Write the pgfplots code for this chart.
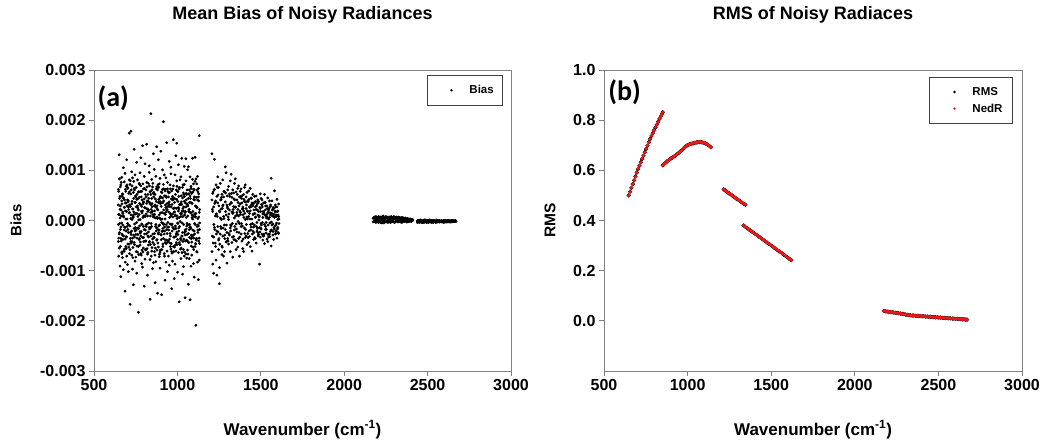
\documentclass[border=0pt]{standalone}
\usepackage{fontspec}
\setmainfont{Liberation Sans}
\newfontfamily\calib{Carlito}
\usepackage{pgfplots}
\usepackage{pgfplotstable}
\pgfplotsset{compat=1.18}

\definecolor{axgray}{RGB}{128,128,128}
\definecolor{nedred}{RGB}{235,25,25}

% Bias values in units of 0.001
\pgfplotstableread{
x a b c d
646 0.31 -0.42 0.62 -0.08
651 -0.55 0.12 1.31 -0.27
656 0.48 -0.91 0.05 0.22
661 -0.13 0.71 -0.36 -1.12
666 0.86 -0.05 0.39 -0.63
671 0.17 -0.29 -0.74 0.53
676 -0.98 0.44 0.09 1.05
681 0.26 -0.61 0.77 -0.19
686 -0.37 0.94 -0.14 -1.41
691 0.58 0.03 -0.52 0.35
696 1.21 -0.33 0.18 -0.71
701 -0.06 0.66 -0.88 0.41
706 0.39 -1.02 0.27 -0.24
711 -0.47 0.15 1.74 0.81
716 0.72 -0.58 -0.11 -1.67
721 0.04 0.53 -0.42 1.78
726 -0.69 -0.21 0.33 0.97
731 0.23 0.85 -0.97 -0.35
736 -1.28 0.11 0.56 0.07
741 0.64 -0.44 -0.16 1.42
746 -0.21 0.36 0.91 -0.81
751 0.47 -0.73 -0.28 0.14
756 -0.04 1.16 0.42 -1.05
761 0.81 -0.15 -0.63 0.29
766 -0.52 0.57 0.21 -1.83
771 0.12 -0.38 0.74 0.46
776 0.95 0.02 -0.49 -0.22
781 -0.31 0.69 1.25 -0.66
786 0.28 -0.86 -0.07 0.58
791 1.49 0.19 -0.34 -0.93
796 -0.12 -0.55 0.63 0.37
801 0.43 0.88 -1.31 -0.18
806 -0.77 0.25 0.08 1.13
811 0.61 -0.09 -0.59 -0.41
816 -0.26 1.52 0.34 0.76
821 0.09 -0.67 -1.09 0.23
826 0.74 0.38 -0.23 -0.49
831 -0.43 -0.14 0.96 1.09
836 0.33 0.57 -0.78 -1.57
841 2.13 -0.31 0.16 0.52
846 -0.61 0.82 0.44 -0.12
851 0.18 -0.96 -0.37 0.67
856 1.33 0.07 0.54 -0.84
861 -0.34 -0.48 1.02 0.29
866 0.52 0.31 -0.69 -1.24
871 -0.08 -0.82 0.27 0.88
876 0.67 1.47 -0.15 -0.39
881 -1.45 0.22 0.61 0.04
886 0.36 -0.27 -0.53 1.21
891 -0.19 0.73 0.11 -0.72
896 0.84 -0.63 -0.95 0.38
901 0.02 0.46 1.38 -0.28
906 -0.58 -0.04 0.35 -1.48
911 0.45 1.01 -0.21 0.62
916 1.97 -0.36 0.72 -0.06
921 -0.27 0.14 -0.66 0.91
926 0.59 -1.19 0.03 -0.44
931 -0.83 0.49 0.85 0.26
936 0.21 -0.18 -0.39 1.55
941 0.76 0.63 -1.02 -0.13
946 -0.41 -0.71 0.47 0.34
951 0.37 0.28 1.18 -0.89
956 -0.07 -0.45 -0.26 0.71
961 1.06 0.93 0.12 -0.57
966 -0.62 -0.09 0.59 -1.36
971 0.13 0.41 -0.81 0.48
976 0.69 -0.52 0.24 1.61
981 -0.33 0.17 -1.16 -0.17
986 0.91 -0.87 0.43 0.09
991 -0.16 1.29 -0.32 -0.61
996 0.42 -0.23 0.79 1.54
1001 -1.03 0.58 -0.05 -0.38
1006 0.26 -0.64 1.11 0.19
1011 0.63 0.06 -0.44 -1.62
1016 -0.48 0.81 0.31 -0.02
1021 0.08 -0.39 -0.76 0.87
1026 1.24 0.32 0.14 -0.31
1031 -0.24 -1.07 0.66 0.45
1036 0.55 0.19 -0.58 -0.92
1041 -0.71 0.72 0.38 1.08
1046 0.16 -0.29 -0.19 -1.54
1051 0.79 1.23 -0.67 0.27
1056 -0.39 -0.11 0.52 -0.75
1061 0.31 -0.59 -0.09 1.01
1066 1.07 0.44 -1.27 -0.26
1071 -0.18 -0.76 0.22 0.61
1076 0.49 0.87 0.36 -1.58
1081 -0.91 -0.16 0.68 0.15
1086 0.35 0.54 -0.43 -0.69
1091 0.82 -0.34 1.24 0.03
1096 -0.29 0.09 -0.86 0.73
1101 0.61 -1.13 0.47 -0.21
1106 -0.52 0.78 -0.08 1.26
1111 0.14 -0.47 0.83 -2.09
1116 0.73 0.26 -0.62 -0.36
1121 -0.09 -0.83 0.41 0.88
1126 0.47 0.64 -1.18 -0.11
1131 -0.35 0.16 1.69 -0.79
}\clusterA

\pgfplotstableread{
x a b c d
648 0.12 -0.35 0.58 -0.71
653 -0.24 0.44 -0.06 0.83
658 0.67 -0.18 0.29 -0.52
663 -0.41 0.09 0.76 0.21
668 0.33 -0.66 -0.27 0.48
673 -0.09 0.52 0.14 -0.38
678 0.45 -0.31 -0.61 0.07
683 -0.57 0.26 0.41 -0.13
688 0.19 -0.83 0.62 0.35
693 -0.32 0.68 -0.21 -0.56
698 0.71 -0.12 0.03 0.29
703 -0.18 0.37 -0.47 0.64
708 0.54 -0.53 0.22 -0.09
713 -0.66 0.16 0.57 0.31
718 0.28 -0.24 -0.36 0.79
723 -0.45 0.61 0.11 -0.28
728 0.38 -0.42 0.69 0.02
733 0.06 0.23 -0.54 -0.74
738 -0.29 0.78 0.17 0.44
743 0.61 -0.07 -0.33 -0.48
748 -0.14 0.49 0.36 0.13
753 0.27 -0.62 -0.19 0.66
758 -0.51 0.14 0.52 -0.35
763 0.43 -0.28 0.08 0.25
768 0.01 0.57 -0.68 -0.16
773 -0.36 -0.11 0.34 0.72
778 0.58 0.32 -0.25 -0.43
783 -0.22 -0.69 0.47 0.18
788 0.15 0.41 -0.08 -0.59
793 -0.63 0.06 0.73 0.33
798 0.36 -0.34 -0.42 0.09
803 0.09 0.64 0.26 -0.27
808 -0.41 -0.19 -0.58 0.52
813 0.24 0.47 0.13 -0.12
818 -0.07 -0.56 0.67 0.39
823 0.52 0.18 -0.31 -0.64
828 -0.33 -0.05 0.44 0.21
833 0.69 0.36 -0.17 -0.42
838 -0.15 -0.48 0.09 0.58
843 0.31 0.22 -0.71 -0.06
848 -0.54 0.61 0.27 0.34
853 0.12 -0.27 -0.44 0.74
858 0.47 0.08 0.56 -0.33
863 -0.26 -0.62 0.19 0.12
868 0.05 0.43 -0.12 -0.55
873 0.63 -0.21 0.38 0.26
878 -0.38 0.29 -0.59 0.07
883 0.21 -0.45 0.71 -0.18
888 -0.11 0.66 -0.24 0.42
893 0.44 -0.09 0.05 -0.67
898 -0.59 0.34 0.48 0.15
903 0.28 -0.38 -0.29 0.57
908 0.03 0.55 0.16 -0.22
913 -0.47 -0.16 -0.52 0.36
918 0.39 0.21 0.63 -0.08
923 -0.21 -0.71 -0.13 0.49
928 0.62 0.12 0.31 -0.39
933 -0.08 0.46 -0.46 0.17
938 0.34 -0.26 0.22 -0.61
943 -0.43 0.58 -0.04 0.28
948 0.17 -0.13 0.55 -0.19
953 0.56 0.31 -0.37 0.06
958 -0.31 -0.52 0.14 0.63
963 0.09 0.27 0.43 -0.46
968 -0.65 -0.07 -0.21 0.32
973 0.42 0.63 0.07 -0.14
978 -0.16 -0.33 -0.62 0.45
983 0.25 0.17 0.36 -0.53
988 -0.49 0.52 -0.11 0.11
993 0.61 -0.44 0.24 -0.27
998 0.04 0.09 -0.48 0.68
1003 -0.28 0.38 0.58 -0.06
1008 0.48 -0.21 -0.15 0.23
1013 -0.12 0.66 0.32 -0.48
1018 0.33 -0.57 -0.36 0.14
1023 -0.55 0.13 0.49 0.37
1028 0.19 -0.31 -0.05 -0.64
1033 0.71 0.24 -0.42 0.08
1038 -0.37 -0.08 0.27 0.52
1043 0.11 0.48 -0.63 -0.24
1048 -0.22 -0.41 0.18 0.35
1053 0.54 0.06 0.41 -0.17
1058 -0.06 0.33 -0.28 0.61
1063 0.29 -0.67 0.09 -0.42
1068 -0.44 0.21 0.53 0.18
1073 0.36 -0.14 -0.34 -0.08
1078 -0.13 0.57 0.16 0.44
1083 0.64 -0.36 -0.51 -0.29
1088 -0.31 0.11 0.34 0.06
1093 0.18 -0.53 -0.19 0.57
1098 -0.58 0.42 0.62 -0.35
1103 0.41 -0.06 -0.27 0.13
1108 0.07 0.29 0.08 -0.46
1113 -0.36 -0.39 0.46 0.28
1118 0.26 0.61 -0.12 -0.63
1123 -0.19 -0.24 0.57 0.04
1128 0.53 0.07 -0.41 0.39
1133 -0.05 -0.46 0.22 -0.18
}\clusterAA

\pgfplotstableread{
x a b c
1207 0.41 -0.62 1.33
1212 -0.87 0.18 0.54
1217 0.27 -0.33 -1.05
1222 0.62 1.22 -0.14
1227 -0.45 0.09 0.36
1232 0.13 -0.79 0.71
1237 -1.09 0.48 -0.21
1242 0.35 -0.12 0.87
1247 -0.58 0.66 -0.39
1252 0.19 -0.94 -1.26
1257 0.74 -0.27 0.05
1262 -0.16 0.42 0.23
1267 0.52 -0.51 -0.68
1272 -0.31 0.29 0.81
1277 0.08 -0.71 0.47
1282 -0.62 0.57 -0.09
1287 0.37 -0.18 1.07
1292 0.95 0.11 -0.43
1297 -0.24 -0.85 0.31
1302 0.61 0.24 -0.36
1307 -0.47 0.68 0.02
1312 0.21 -0.29 0.53
1317 0.79 -0.62 -0.15
1322 -0.11 0.36 0.92
1327 0.46 -0.44 0.17
1332 -0.73 0.14 0.61
1337 0.28 0.55 -0.32
1342 0.05 -0.19 0.74
1347 -0.39 0.83 0.26
1352 0.57 -0.07 -0.58
1357 0.16 0.41 -0.23
1362 -0.53 0.22 0.64
1367 0.69 -0.36 0.09
1372 -0.06 0.47 -0.71
1377 0.33 0.12 0.58
1382 -0.27 0.63 -0.12
1387 0.49 -0.41 0.35
1392 0.11 0.27 -0.56
1397 -0.62 0.52 0.19
1402 0.38 -0.15 0.66
1407 0.02 0.71 -0.34
1412 -0.31 0.24 0.47
1417 0.56 -0.48 0.07
1422 0.18 0.39 -0.26
1427 -0.44 0.08 0.59
1432 0.27 -0.32 0.14
1437 0.64 0.19 -0.52
1442 -0.13 0.45 0.31
1447 0.35 -0.61 0.03
1452 -0.21 0.29 0.52
1457 0.13 -0.13 -0.38
1462 0.48 0.36 -0.09
1467 -0.36 0.06 0.27
1472 0.22 -0.45 0.49
1477 -0.04 0.33 -0.21
1482 0.41 -0.24 0.11
1487 -0.28 0.18 0.38
1492 0.09 -0.87 -0.14
1497 0.53 0.24 -0.33
1502 -0.17 -0.06 0.44
1507 0.31 0.41 -0.27
1512 -0.39 0.13 0.06
1517 0.17 -0.31 0.35
1522 -0.08 0.52 -0.46
1527 0.36 -0.18 0.21
1532 -0.25 0.09 -0.04
1537 0.12 0.29 -0.37
1542 0.45 -0.42 0.16
1547 -0.33 0.21 0.03
1552 0.06 -0.27 0.39
1557 0.28 0.11 -0.22
1562 -0.19 0.84 -0.51
1567 0.39 -0.09 0.14
1572 -0.07 0.23 -0.29
1577 0.24 -0.38 0.08
1582 0.59 0.06 -0.17
1587 -0.27 0.17 0.31
1592 0.11 -0.21 -0.09
1597 0.42 0.27 -0.35
1602 -0.14 0.02 0.19
1607 0.08 -0.26 0.33
}\clusterB

\pgfplotstableread{
x a b
1209 0.22 -0.31
1214 -0.45 0.57
1219 0.61 -0.08
1224 -0.18 0.34
1229 0.39 -0.52
1234 -0.27 0.13
1239 0.08 0.66
1244 0.51 -0.23
1249 -0.36 0.29
1254 0.17 -0.47
1259 -0.12 0.41
1264 0.46 0.02
1269 -0.53 0.24
1274 0.31 -0.15
1279 0.04 0.58
1284 -0.29 -0.36
1289 0.55 0.18
1294 -0.09 -0.42
1299 0.27 0.49
1304 -0.41 0.07
1309 0.13 -0.26
1314 0.48 0.32
1319 -0.21 -0.09
1324 0.35 0.54
1329 -0.06 -0.33
1334 0.22 0.16
1339 -0.38 0.43
1344 0.41 -0.12
1349 0.09 0.27
1354 -0.17 -0.41
1359 0.52 0.11
1364 -0.02 0.36
1369 0.29 -0.24
1374 -0.33 0.19
1379 0.16 0.48
1384 0.44 -0.06
1389 -0.11 0.23
1394 0.24 -0.37
1399 0.06 0.42
1404 -0.26 0.14
1409 0.37 -0.18
1414 -0.08 0.31
1419 0.19 0.03
1424 -0.34 0.38
1429 0.42 -0.21
1434 0.03 0.26
1439 -0.19 -0.08
1444 0.28 0.44
1449 -0.06 -0.27
1454 0.33 0.12
1459 -0.24 0.21
1464 0.14 -0.34
1469 0.38 0.07
1474 -0.12 0.29
1479 0.21 -0.16
1484 -0.31 0.35
1489 0.07 0.01
1494 0.26 -0.23
1499 -0.15 0.18
1504 0.32 -0.09
1509 -0.04 0.27
1514 0.18 -0.31
1519 -0.27 0.14
1524 0.11 0.36
1529 0.29 -0.12
1534 -0.18 0.05
1539 0.06 0.24
1544 -0.09 -0.28
1549 0.24 0.16
1554 -0.32 -0.05
1559 0.15 0.31
1564 -0.03 -0.19
1569 0.21 0.09
1574 -0.22 0.26
1579 0.12 -0.14
1584 -0.11 0.19
1589 0.27 -0.26
1594 -0.05 0.08
1599 0.18 -0.17
1604 -0.24 0.11
1609 0.03 -0.06
}\clusterBB

\pgfplotstableread{
x a b
2174 0.04 -0.03
2178 -0.02 0.06
2182 0.07 -0.01
2186 0.01 0.04
2190 -0.04 0.08
2194 0.05 -0.02
2198 0.02 0.06
2202 -0.03 0.03
2206 0.08 -0.04
2210 0.00 0.05
2214 0.06 -0.02
2218 -0.04 0.07
2222 0.03 0.01
2226 0.07 -0.05
2230 -0.01 0.04
2234 0.05 0.09
2238 -0.05 0.02
2242 0.04 -0.02
2246 0.01 0.06
2250 0.08 -0.03
2254 -0.02 0.05
2258 0.06 0.00
2262 -0.04 0.07
2266 0.03 -0.01
2270 0.07 0.04
2274 -0.03 0.02
2278 0.05 -0.04
2282 0.00 0.08
2286 0.06 -0.02
2290 -0.02 0.05
2294 0.04 0.01
2298 0.08 -0.03
2302 -0.04 0.06
2306 0.02 0.03
2310 0.06 -0.02
2314 -0.01 0.07
2318 0.05 0.00
2322 -0.03 0.04
2326 0.07 -0.01
2330 0.01 0.06
2334 -0.02 0.03
2338 0.05 -0.03
2342 0.02 0.06
2346 -0.04 0.01
2350 0.06 0.04
2354 0.00 -0.02
2358 0.04 0.05
2362 -0.02 0.02
2366 0.05 -0.01
2370 0.01 0.04
2374 -0.03 0.02
2378 0.04 0.00
2382 0.02 -0.03
2386 -0.01 0.03
2390 0.03 0.01
2394 0.00 -0.02
2398 0.02 0.03
2402 -0.02 0.01
2406 0.01 -0.01
2410 0.00 0.02
2438 -0.01 -0.04
2442 -0.03 0.00
2446 0.00 -0.03
2450 -0.04 -0.01
2454 -0.02 0.01
2458 0.01 -0.03
2462 -0.03 -0.01
2466 -0.01 -0.04
2470 -0.04 0.00
2474 0.00 -0.02
2478 -0.02 -0.04
2482 -0.03 0.01
2486 0.01 -0.02
2490 -0.02 -0.03
2494 -0.04 0.00
2498 0.00 -0.03
2502 -0.03 -0.01
2506 -0.01 -0.04
2510 -0.02 0.01
2514 0.01 -0.02
2518 -0.03 -0.01
2522 -0.01 -0.03
2526 -0.04 0.00
2530 0.00 -0.02
2534 -0.02 -0.04
2538 -0.03 0.00
2542 0.00 -0.02
2546 -0.02 -0.03
2550 -0.04 -0.01
2554 -0.01 0.01
2558 -0.03 -0.02
2562 0.00 -0.03
2566 -0.02 -0.01
2570 -0.03 0.00
2574 -0.01 -0.03
2578 -0.02 -0.01
2582 0.00 -0.02
2586 -0.03 -0.01
2590 -0.01 -0.03
2594 -0.02 0.00
2598 -0.04 -0.02
2602 0.00 -0.01
2606 -0.02 -0.03
2610 -0.01 0.00
2614 -0.03 -0.02
2618 0.00 -0.01
2622 -0.02 -0.03
2626 -0.01 0.00
2630 -0.03 -0.02
2634 0.00 -0.01
2638 -0.02 -0.03
2642 -0.01 0.00
2646 -0.03 -0.02
2650 0.00 -0.01
2654 -0.02 -0.02
2658 -0.01 0.00
2662 -0.02 -0.02
2666 0.00 -0.01
2670 -0.01 -0.02
}\clusterC

% RMS and NedR
\pgfplotstableread{
x r n
648 0.500 0.500
656 0.515 0.514
664 0.530 0.531
672 0.545 0.545
680 0.560 0.561
688 0.576 0.575
696 0.591 0.591
704 0.605 0.606
712 0.618 0.618
720 0.632 0.631
728 0.645 0.646
736 0.658 0.658
744 0.672 0.671
752 0.685 0.686
760 0.698 0.698
768 0.712 0.711
776 0.725 0.725
784 0.737 0.738
792 0.748 0.748
800 0.760 0.759
808 0.771 0.772
816 0.782 0.782
824 0.794 0.793
832 0.805 0.806
840 0.816 0.816
846 0.824 0.823
851 0.832 0.832
852 0.620 0.620
860 0.625 0.626
868 0.630 0.630
876 0.635 0.634
884 0.639 0.640
892 0.643 0.643
900 0.647 0.648
908 0.650 0.650
916 0.654 0.653
924 0.657 0.658
932 0.662 0.662
940 0.666 0.665
948 0.670 0.671
956 0.675 0.675
964 0.680 0.679
972 0.685 0.686
980 0.690 0.690
988 0.695 0.694
996 0.699 0.700
1004 0.702 0.702
1012 0.704 0.704
1020 0.706 0.707
1028 0.707 0.707
1036 0.708 0.709
1044 0.710 0.710
1052 0.711 0.711
1060 0.712 0.712
1068 0.712 0.713
1076 0.713 0.713
1084 0.712 0.712
1092 0.711 0.711
1100 0.709 0.710
1108 0.707 0.707
1116 0.704 0.704
1124 0.700 0.701
1132 0.696 0.696
1140 0.692 0.692
1216 0.524 0.524
1224 0.520 0.521
1232 0.516 0.516
1240 0.512 0.512
1248 0.508 0.509
1256 0.505 0.505
1264 0.501 0.501
1272 0.497 0.497
1280 0.493 0.494
1288 0.489 0.489
1296 0.485 0.486
1304 0.482 0.482
1312 0.478 0.478
1320 0.474 0.475
1328 0.470 0.470
1336 0.467 0.467
1345 0.463 0.463
1335 0.380 0.380
1345 0.375 0.375
1355 0.370 0.371
1365 0.365 0.365
1375 0.360 0.360
1385 0.356 0.355
1395 0.351 0.351
1405 0.346 0.346
1415 0.341 0.342
1425 0.336 0.336
1435 0.332 0.331
1445 0.327 0.327
1455 0.322 0.322
1465 0.317 0.318
1475 0.312 0.312
1485 0.307 0.308
1495 0.303 0.303
1505 0.298 0.298
1515 0.293 0.293
1525 0.288 0.289
1535 0.283 0.283
1545 0.278 0.279
1555 0.274 0.274
1565 0.269 0.269
1575 0.264 0.264
1585 0.259 0.260
1595 0.254 0.254
1605 0.249 0.249
1615 0.244 0.244
1620 0.242 0.242
2173 0.039 0.039
2183 0.038 0.038
2193 0.037 0.037
2203 0.036 0.036
2213 0.035 0.035
2223 0.034 0.034
2233 0.033 0.033
2243 0.032 0.032
2253 0.031 0.031
2263 0.030 0.030
2273 0.029 0.029
2283 0.028 0.028
2293 0.027 0.027
2303 0.025 0.025
2313 0.024 0.024
2323 0.023 0.023
2333 0.022 0.022
2343 0.021 0.021
2353 0.021 0.021
2363 0.020 0.020
2373 0.020 0.020
2383 0.019 0.019
2393 0.019 0.019
2403 0.018 0.018
2413 0.018 0.018
2423 0.017 0.017
2433 0.017 0.017
2443 0.016 0.016
2453 0.016 0.016
2463 0.015 0.015
2473 0.015 0.015
2483 0.014 0.014
2493 0.014 0.014
2503 0.013 0.013
2513 0.013 0.013
2523 0.012 0.012
2533 0.012 0.012
2543 0.011 0.011
2553 0.011 0.011
2563 0.010 0.010
2573 0.010 0.010
2583 0.009 0.009
2593 0.009 0.009
2603 0.008 0.008
2613 0.008 0.008
2623 0.007 0.007
2633 0.007 0.007
2643 0.006 0.006
2653 0.006 0.006
2663 0.005 0.005
2671 0.005 0.005
}\rmsdata

\pgfplotsset{
  panel/.style={
    scale only axis, width=417pt, height=301pt,
    xmin=500, xmax=3000, xtick={500,1000,1500,2000,2500,3000},
    axis line style={axgray, line width=0.8pt},
    tick style={axgray, line width=0.8pt},
    major tick length=5pt, tick align=outside,
    xtick pos=bottom, ytick pos=left,
    /pgf/number format/assume math mode=true,
    /pgf/number format/1000 sep={},
    ticklabel style={font=\fontsize{16}{18}\selectfont\bfseries},
    xlabel={Wavenumber (cm\textsuperscript{-1})},
    xlabel style={at={(axis description cs:0.5,-0.195)}, anchor=center,
      font=\fontsize{17}{20}\selectfont\bfseries},
    title style={at={(axis description cs:0.5,1)}, anchor=base, yshift=44pt,
      font=\fontsize{18}{21}\selectfont\bfseries},
    legend cell align=left,
    legend style={draw=black!75, line width=0.6pt, fill=white,
      font=\fontsize{11.5}{13}\selectfont\bfseries,
      inner xsep=6pt, inner ysep=6pt, row sep=1pt,
      nodes={inner sep=3pt}},
    legend image code/.code={\path[draw=none, fill=none] (0pt,-3pt) rectangle (33pt,3pt);
      \fill (18pt,0pt) circle (0.9pt);},
  },
  bias/.style={only marks, mark=*, mark size=1.2pt, black, forget plot},
}

\begin{document}
\begin{tikzpicture}
\useasboundingbox (0,0) rectangle (1043pt,443pt);

\begin{axis}[panel, at={(94pt,72pt)}, anchor=south west,
  ymin=-0.003, ymax=0.003,
  ytick={-0.003,-0.002,-0.001,0,0.001,0.002,0.003},
  scaled y ticks=false,
  yticklabel style={/pgf/number format/fixed, /pgf/number format/fixed zerofill,
    /pgf/number format/precision=3},
  ylabel={Bias},
  ylabel style={at={(axis description cs:-0.187,0.5)}, anchor=center,
    font=\fontsize{15}{18}\selectfont\bfseries},
  title={Mean Bias of Noisy Radiances},
  legend style={at={(axis description cs:0.981,0.983)}, anchor=north east,
    inner ysep=7pt},
]
\addplot[only marks, mark=*, mark size=1.2pt, black] table[x=x, y expr=\thisrow{a}*0.001] {\clusterA};
\addlegendentry{Bias\hspace{5pt}}
\addplot[bias] table[x=x, y expr=\thisrow{b}*0.001] {\clusterA};
\addplot[bias] table[x=x, y expr=\thisrow{c}*0.001] {\clusterA};
\addplot[bias] table[x=x, y expr=\thisrow{d}*0.001] {\clusterA};
\addplot[bias] table[x=x, y expr=\thisrow{a}*0.001] {\clusterAA};
\addplot[bias] table[x=x, y expr=\thisrow{b}*0.001] {\clusterAA};
\addplot[bias] table[x=x, y expr=\thisrow{c}*0.001] {\clusterAA};
\addplot[bias] table[x=x, y expr=\thisrow{d}*0.001] {\clusterAA};
\addplot[bias] table[x=x, y expr=\thisrow{a}*0.001] {\clusterB};
\addplot[bias] table[x=x, y expr=\thisrow{b}*0.001] {\clusterB};
\addplot[bias] table[x=x, y expr=\thisrow{c}*0.001] {\clusterB};
\addplot[bias] table[x=x, y expr=\thisrow{a}*0.001] {\clusterBB};
\addplot[bias] table[x=x, y expr=\thisrow{b}*0.001] {\clusterBB};
\addplot[bias] table[x=x, y expr=\thisrow{a}*0.001] {\clusterC};
\addplot[bias] table[x=x, y expr=\thisrow{b}*0.001] {\clusterC};
\node[anchor=north west, inner sep=0pt, font=\calib\bfseries\fontsize{28}{30}\selectfont]
  at (axis description cs:0.008,0.95) {(a)};
\end{axis}

\begin{axis}[panel, at={(604pt,72pt)}, anchor=south west, width=418pt,
  ymin=-0.2, ymax=1.0,
  ytick={0,0.2,0.4,0.6,0.8,1.0},
  yticklabel style={/pgf/number format/fixed, /pgf/number format/fixed zerofill,
    /pgf/number format/precision=1},
  ylabel={RMS},
  ylabel style={at={(axis description cs:-0.129,0.5)}, anchor=center,
    font=\fontsize{15.5}{18}\selectfont\bfseries},
  title={RMS of Noisy Radiaces},
  legend style={at={(axis description cs:0.978,0.977)}, anchor=north east,
    inner ysep=7pt, inner xsep=7pt},
]
\addplot[only marks, mark=*, mark size=1.9pt, black] table[x=x, y=r] {\rmsdata};
\addlegendentry{RMS}
\addplot[only marks, mark=*, mark size=1.5pt, nedred, mark options={draw=nedred, fill=nedred}] table[x=x, y=n] {\rmsdata};
\addlegendentry{NedR\hspace{4pt}}
\node[anchor=north west, inner sep=0pt, font=\calib\bfseries\fontsize{28}{30}\selectfont]
  at (axis description cs:0.01,0.97) {(b)};
\end{axis}
\end{tikzpicture}
\end{document}
